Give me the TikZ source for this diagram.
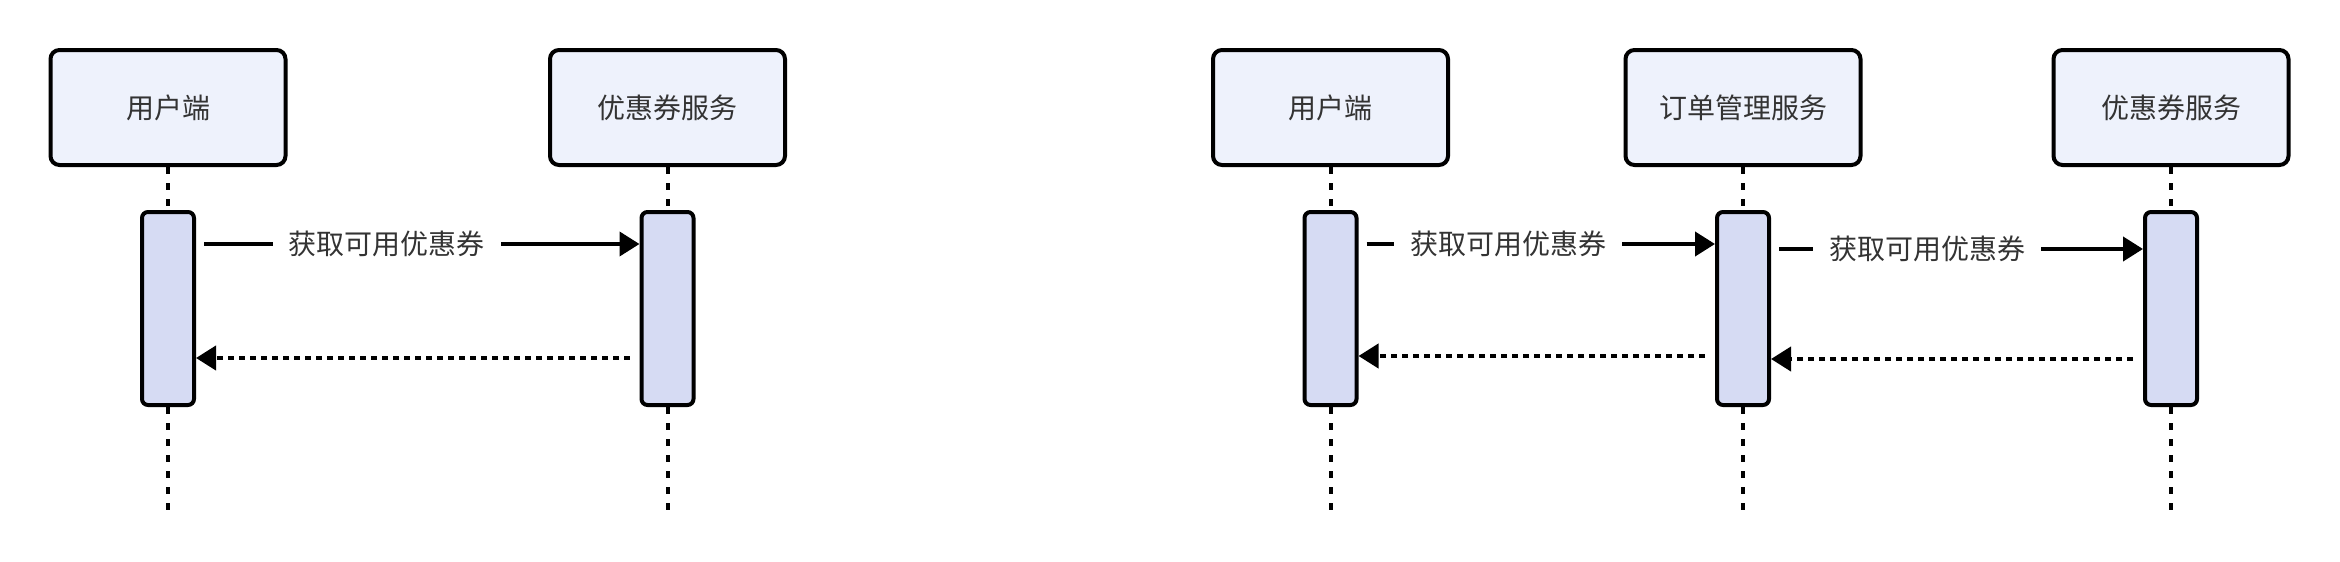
\documentclass[tikz,border=0pt]{standalone}
\usepackage{fontspec}
\setmainfont{Noto Sans CJK SC}
\usepackage{tikz}
\usetikzlibrary{arrows.meta, positioning}
\definecolor{boxfill}{HTML}{EEF2FC}
\definecolor{barfill}{HTML}{D6DBF3}
\definecolor{txt}{HTML}{333333}
\tikzstyle{actor} = [draw, line width=4pt, rounded corners=9pt, fill=boxfill, minimum width=235pt, minimum height=115pt, text=txt, font=\fontsize{28}{34}\selectfont]
\tikzstyle{bar} = [draw, line width=4pt, rounded corners=6pt, fill=barfill, minimum width=52pt, minimum height=193pt]
\tikzstyle{life} = [line width=4pt, dash pattern=on 7pt off 9pt]
\tikzstyle{call} = [line width=4pt, -{Triangle[length=20pt,width=24pt]}, shorten <=8pt]
\tikzstyle{reply} = [line width=4pt, dash pattern=on 6pt off 5pt, -{Triangle[length=20pt,width=24pt]}, shorten <=10pt]
\tikzstyle{lbl} = [fill=white, text=txt, inner xsep=16pt, inner ysep=2pt, font=\fontsize{28}{34}\selectfont]

\begin{document}
\begin{tikzpicture}[x=1pt, y=-1pt]
\useasboundingbox (0,0) rectangle (2340,562);

% left: user -> coupon
\node[actor] (user) at (168,107.5) {用户端};
\node[actor] (coupon) at (667.5,107.5) {优惠券服务};
\node[bar] (userbar) [below=43pt of user] {};
\node[bar] (couponbar) [below=43pt of coupon] {};
\coordinate (userend) at (user |- 0,512);
\coordinate (couponend) at (coupon |- 0,512);

\draw [life] (user) -- (userbar);
\draw [life] (userbar) -- (userend);
\draw [life] (coupon) -- (couponbar);
\draw [life] (couponbar) -- (couponend);

\coordinate (ask) at (0,244);
\coordinate (back) at (0,358);
\draw [call] (userbar.east |- ask) -- node[lbl, pos=.43] {获取可用优惠券} (couponbar.west |- ask);
\draw [reply] (couponbar.west |- back) -- (userbar.east |- back);

% right: user -> order -> coupon
\node[actor] (user2) at (1330.5,107.5) {用户端};
\node[actor] (order2) at (1743,107.5) {订单管理服务};
\node[actor] (coupon2) at (2171,107.5) {优惠券服务};
\node[bar] (userbar2) [below=43pt of user2] {};
\node[bar] (orderbar2) [below=43pt of order2] {};
\node[bar] (couponbar2) [below=43pt of coupon2] {};
\coordinate (userend2) at (user2 |- 0,512);
\coordinate (orderend2) at (order2 |- 0,512);
\coordinate (couponend2) at (coupon2 |- 0,512);

\draw [life] (user2) -- (userbar2);
\draw [life] (userbar2) -- (userend2);
\draw [life] (order2) -- (orderbar2);
\draw [life] (orderbar2) -- (orderend2);
\draw [life] (coupon2) -- (couponbar2);
\draw [life] (couponbar2) -- (couponend2);

\coordinate (ask2) at (0,244);
\coordinate (fwd2) at (0,249);
\coordinate (back2) at (0,356);
\coordinate (ret2) at (0,359);
\draw [call] (userbar2.east |- ask2) -- node[lbl, pos=.42] {获取可用优惠券} (orderbar2.west |- ask2);
\draw [call] (orderbar2.east |- fwd2) -- node[lbl, pos=.42] {获取可用优惠券} (couponbar2.west |- fwd2);
\draw [reply] (couponbar2.west |- ret2) -- (orderbar2.east |- ret2);
\draw [reply] (orderbar2.west |- back2) -- (userbar2.east |- back2);
\end{tikzpicture}
\end{document}
